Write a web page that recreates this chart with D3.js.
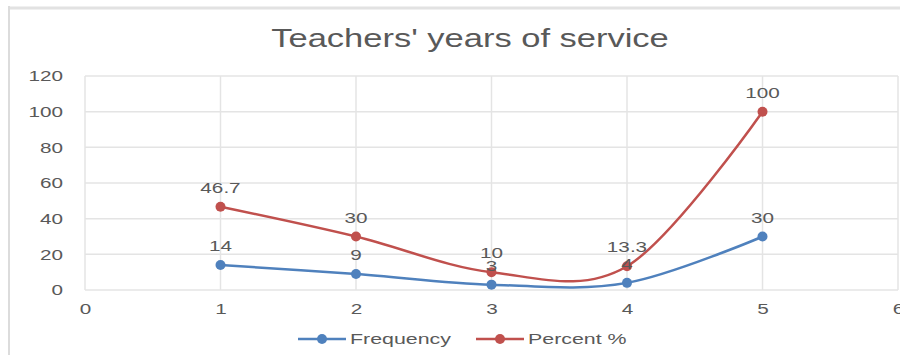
<!DOCTYPE html>
<html>
<head>
<meta charset="utf-8">
<script src="https://cdn.jsdelivr.net/npm/d3@7"></script>
<style>
  html, body { margin: 0; padding: 0; background: #fff; }
  svg text { font-family: "Liberation Sans", Arial, sans-serif; fill: #595959; }
</style>
</head>
<body>
<svg id="chart" width="900" height="355"></svg>
<script>
// Years-of-service categories and series
const categories = [1, 2, 3, 4, 5];
const frequency = [14, 9, 3, 4, 30];
const percent = [46.7, 30, 10, 13.3, 100];
const xTicks = [0, 1, 2, 3, 4, 5, 6];
const yTicks = [0, 20, 40, 60, 80, 100, 120];
const seriesNames = ["Frequency", "Percent %"];
const title = "Teachers' years of service";

const svg = d3.select("#chart");
const colors = ["#4f81bd", "#c0504d"];
const stretch = "scale(1.38,1)"; // wide lettering used across the chart

// Frame edges
svg.append("line").attr("x1", 9).attr("x2", 900).attr("y1", 8).attr("y2", 8)
  .attr("stroke", "#e2e2e2").attr("stroke-width", 3);
svg.append("line").attr("x1", 9).attr("x2", 9).attr("y1", 6).attr("y2", 355)
  .attr("stroke", "#dcdcdc").attr("stroke-width", 2);

const x = d3.scaleLinear().domain([0, 6]).range([85, 898]);
const y = d3.scaleLinear().domain([0, 120]).range([290, 76]);

// Title
svg.append("g").attr("transform", "translate(470,47)")
  .append("text").attr("text-anchor", "middle").attr("transform", stretch)
  .style("font-size", "25px").text(title);

// Gridlines
const grid = svg.append("g");
grid.selectAll("line.h").data(yTicks).join("line").attr("class", "h")
  .attr("x1", x(0)).attr("x2", x(6)).attr("y1", d => y(d)).attr("y2", d => y(d))
  .attr("stroke", "#e4e4e4").attr("stroke-width", 1.5);
grid.selectAll("line.v").data(xTicks).join("line").attr("class", "v")
  .attr("x1", d => x(d)).attr("x2", d => x(d)).attr("y1", y(120)).attr("y2", y(0))
  .attr("stroke", "#e4e4e4").attr("stroke-width", 1.5);

// Axes (labels only)
const yAxis = svg.append("g").attr("transform", `translate(${x(0) - 22},0)`)
  .call(d3.axisLeft(y).tickValues(yTicks).tickSize(0).tickPadding(0));
yAxis.select(".domain").remove();
yAxis.selectAll("text").style("font-size", "15px").attr("fill", "#595959").attr("transform", stretch);

const xAxis = svg.append("g").attr("transform", `translate(0,${y(0) + 13})`)
  .call(d3.axisBottom(x).tickValues(xTicks).tickSize(0).tickPadding(0).tickFormat(d3.format("d")));
xAxis.select(".domain").remove();
xAxis.selectAll("text").style("font-size", "15px").attr("fill", "#595959").attr("transform", stretch);

// Series
const series = [frequency, percent];
const line = d3.line().x(d => x(d[0])).y(d => y(d[1])).curve(d3.curveCardinal.tension(0));

series.forEach((vals, i) => {
  const pts = categories.map((c, j) => [c, vals[j]]);
  svg.append("path").datum(pts).attr("d", line).attr("fill", "none")
    .attr("stroke", colors[i]).attr("stroke-width", 2.5);
  svg.append("g").selectAll("circle").data(pts).join("circle")
    .attr("cx", d => x(d[0])).attr("cy", d => y(d[1])).attr("r", 5).attr("fill", colors[i]);
});

// Data labels
series.forEach((vals, i) => {
  svg.append("g").selectAll("g").data(categories.map((c, j) => [c, vals[j]])).join("g")
    .attr("transform", d => `translate(${x(d[0])},${y(d[1]) - 14})`)
    .append("text").attr("text-anchor", "middle").attr("transform", stretch)
    .style("font-size", "15px").text(d => d[1]);
});

// Legend
const legend = svg.append("g").attr("transform", "translate(0,339)");
const legendX = [298, 476];
seriesNames.forEach((name, i) => {
  const g = legend.append("g").attr("transform", `translate(${legendX[i]},0)`);
  g.append("line").attr("x1", 0).attr("x2", 48).attr("y1", 0).attr("y2", 0)
    .attr("stroke", colors[i]).attr("stroke-width", 2.5);
  g.append("circle").attr("cx", 24).attr("cy", 0).attr("r", 5).attr("fill", colors[i]);
  g.append("g").attr("transform", "translate(52,5)")
    .append("text").attr("transform", stretch).style("font-size", "15.5px").text(name);
});
</script>
</body>
</html>
